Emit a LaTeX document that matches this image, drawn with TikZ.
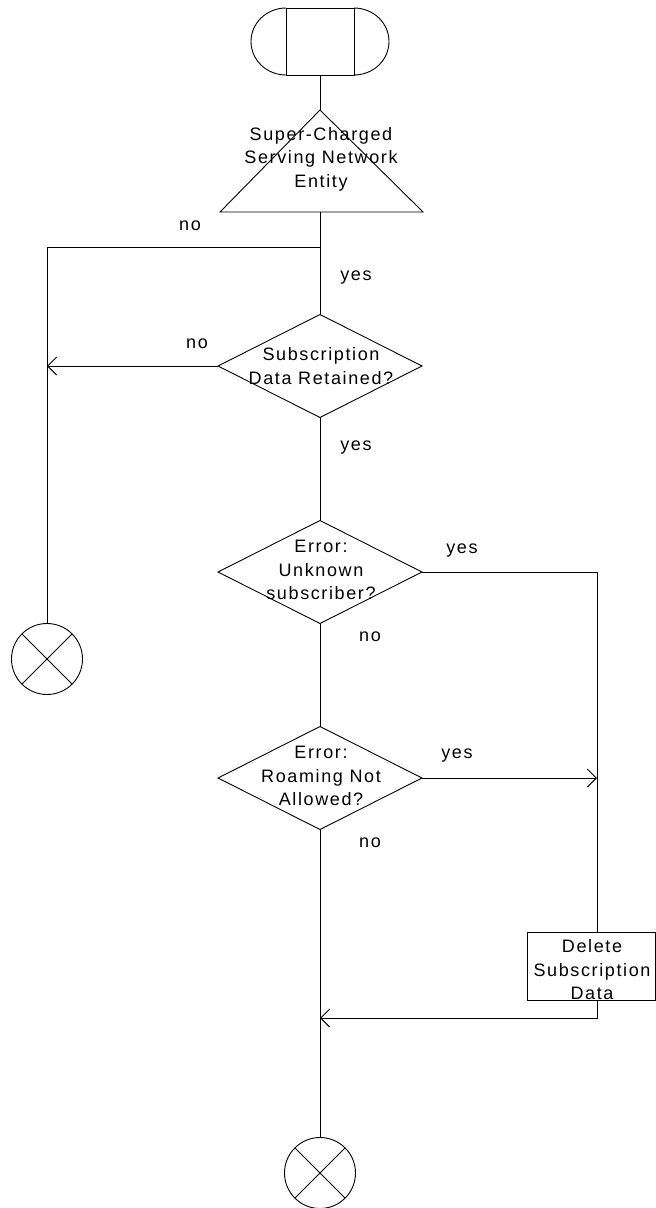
\documentclass[tikz,border=0pt]{standalone}
\usepackage{fontspec}
\setmainfont{Liberation Sans}[LetterSpace=9]
\usetikzlibrary{arrows.meta,shapes.geometric}
\begin{document}
\begin{tikzpicture}[x=1pt,y=-1pt, line width=0.9pt,
  txt/.style={font=\fontsize{18}{23.5}\selectfont, align=center, inner sep=0pt},
  dia/.style={draw, diamond, minimum width=204pt, minimum height=103pt, inner sep=0pt, outer sep=0pt},
  endc/.style={draw, circle, minimum size=71pt, inner sep=0pt, outer sep=0pt},
  arr/.style={-{Straight Barb[length=9pt,width=18pt,line width=0.9pt]}},
  lbl/.style={font=\fontsize{18}{22}\selectfont, inner sep=0pt}]
\useasboundingbox (0,0) rectangle (656,1208);
% start terminal
\node[draw, minimum width=68pt, minimum height=67pt, inner sep=0pt, outer sep=0pt] (start) at (320,41.5) {};
\draw (start.north west) arc[start angle=90, end angle=270, x radius=35pt, y radius=33.5pt];
\draw (start.north east) arc[start angle=90, end angle=-90, x radius=35pt, y radius=33.5pt];
% triangle
\coordinate (apex) at (320,110);
\coordinate (bl) at (220,212);
\coordinate (br) at (423,212);
\coordinate (trib) at (320,212);
\draw (apex) -- (bl) -- (br) -- cycle;
\node[txt] (trit) at (321,159) {Super-Charged\\Serving Network\\Entity};
% decisions
\node[dia] (d1) at (320,366) {};
\node[txt] (d1t) at (321,366) {Subscription\\Data Retained?};
\node[dia] (d2) at (320,572) {};
\node[txt] (d2t) at (321,570) {Error:\\Unknown\\subscriber?};
\node[dia] (d3) at (320,778) {};
\node[txt] (d3t) at (321,776) {Error:\\Roaming Not\\Allowed?};
% box
\node[draw, minimum width=128pt, minimum height=68pt, inner sep=0pt, outer sep=0pt] (box) at (591,966) {};
\node[txt] (boxt) at (592,970) {Delete\\Subscription\\Data};
\coordinate (bt) at (597,932);
\coordinate (bb) at (597,1000);
\coordinate (mr) at (597,1018);
% ends
\node[endc] (end1) at (47,659) {};
\draw (end1.north east) -- (end1.south west) (end1.north west) -- (end1.south east);
\node[endc] (end2) at (320,1173) {};
\draw (end2.north east) -- (end2.south west) (end2.north west) -- (end2.south east);
% connectors
\coordinate (j1) at (320,247);
\draw (start.south) -- (apex);
\draw (trib) -- (d1.north);
\draw (j1) -- (j1 -| end1) -- (end1.north);
\draw[arr] (d1.west) -- (d1.west -| end1);
\draw (d1.south) -- (d2.north);
\draw (d2.east) -- (d2.east -| bt) -- (bt);
\draw (d2.south) -- (d3.north);
\draw[arr] (d3.east) -- (d3.east -| bt);
\draw (d3.south) -- (end2.north);
\draw[arr] (bb) -- (mr) -- (mr -| d3.south);
% labels
\node[lbl] (l1) at (190,226) {no};
\node[lbl] (l2) at (356,278) {yes};
\node[lbl] (l3) at (197,344) {no};
\node[lbl] (l4) at (356,448) {yes};
\node[lbl] (l5) at (462,551) {yes};
\node[lbl] (l6) at (370,637) {no};
\node[lbl] (l7) at (457,756) {yes};
\node[lbl] (l8) at (370,843) {no};
\end{tikzpicture}
\end{document}
